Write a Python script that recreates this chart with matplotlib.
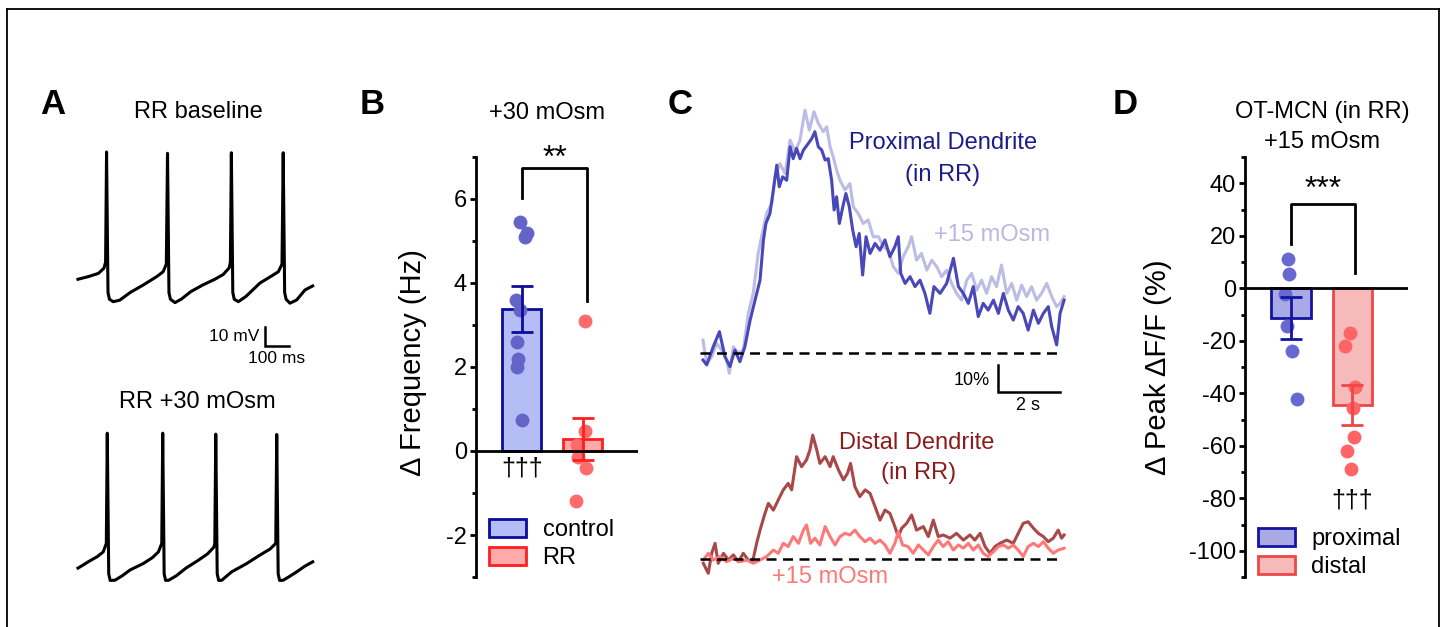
import matplotlib.pyplot as plt
from matplotlib.patches import Patch
from matplotlib.lines import Line2D
import numpy as np

plt.rcParams['font.family'] = ['Liberation Sans', 'DejaVu Sans']
plt.rcParams['axes.unicode_minus'] = False

W, H = 1444, 627

# ---------------- data ----------------
# A: membrane potential traces (ms, mV)
trace_baseline = [(0, -47), (43, -45.6), (85, -43.9), (108, -41.2), (115, -38), (119, 20), (125, -54),
                  (131, -57.5), (147, -58.8), (174, -58), (217, -54), (272, -50), (328, -45.6), (355, -43),
                  (368, -39), (373, 19.3), (379, -54), (385, -57.5), (404, -59.3), (430, -57.5), (470, -53.5),
                  (520, -50), (570, -47), (605, -44.5), (630, -41), (635, -38), (639, 19.6), (645, -54),
                  (651, -57.5), (668, -58.8), (700, -56), (758, -49), (810, -45), (835, -43), (850, -39),
                  (855, 19.6), (861, -54), (867, -57.5), (883, -59.6), (911, -57.9), (946, -52.6), (978, -50.5)]
trace_30mosm = [(0, -51), (20, -49.5), (45, -47.5), (80, -45), (105, -42.5), (118, -38), (122, 20), (128, -54),
                (134, -57.5), (154, -57.4), (185, -55), (217, -52), (272, -48.6), (310, -45.5), (335, -42.5),
                (349, -38), (353, 20), (359, -54), (365, -57.5), (378, -57.4), (410, -55), (450, -51), (500, -47),
                (540, -43.5), (566, -40), (570, -38), (574, 19.5), (580, -54), (586, -57.5), (599, -57.4),
                (640, -53), (703, -48.6), (760, -44), (800, -41), (824, -38), (828, 19.3), (834, -54),
                (840, -57.5), (855, -57.4), (880, -55.5), (911, -53), (945, -50), (978, -47.7)]

# B: change in firing frequency (Hz)
freq_groups = ['control', 'RR']
freq_means = [3.38, 0.28]
freq_sem = [0.55, 0.5]
freq_control = [5.45, 5.2, 5.1, 3.6, 3.35, 2.6, 2.2, 2.0, 0.73]
freq_rr = [3.1, 0.47, 0.15, -0.15, -0.4, -1.2]
jit_control = [-0.02, 0.09, 0.06, -0.09, -0.02, -0.07, -0.06, -0.07, 0.01]
jit_rr = [0.04, 0.04, -0.09, -0.07, 0.06, -0.11]

# C: calcium imaging traces (s, % dF/F)
prox_ctrl = [(0.00, -2.6), (0.12, -4.4), (0.33, 2.3), (0.53, 7.9), (0.71, -1.4), (0.87, -5), (1.03, 1.1),
             (1.19, -3.2), (1.35, 2.3), (1.52, 12.2), (1.68, 19.6), (1.84, 27), (1.95, 41.9), (2.03, 48),
             (2.16, 51.7), (2.27, 60.4), (2.38, 69.6), (2.46, 61.6), (2.57, 65.3), (2.70, 64), (2.81, 76.4),
             (2.91, 72), (3.02, 75.8), (3.13, 72), (3.24, 75.2), (3.40, 77.7), (3.51, 79.5), (3.61, 82),
             (3.72, 76.4), (3.83, 75.2), (3.94, 71.5), (4.04, 72), (4.15, 64), (4.23, 53), (4.31, 57.9),
             (4.40, 48), (4.51, 54.2), (4.61, 59.1), (4.72, 54.2), (4.83, 45.6), (4.94, 39.4), (5.04, 44.3),
             (5.15, 28.9), (5.26, 43.1), (5.39, 36.9), (5.55, 40.6), (5.71, 38.1), (5.87, 41.9), (6.03, 35.7),
             (6.19, 39.4), (6.30, 43.1), (6.38, 29.5), (6.52, 25.8), (6.68, 28.3), (6.84, 24.6), (7.00, 27),
             (7.16, 22.1), (7.32, 14.7), (7.45, 24.6), (7.65, 22.1), (7.86, 25.8), (8.08, 35.1), (8.24, 24.6),
             (8.40, 22.1), (8.56, 18.4), (8.72, 24.6), (8.88, 13.5), (9.04, 18.4), (9.20, 15.9), (9.37, 19.6),
             (9.53, 14.7), (9.69, 22.1), (9.85, 15.9), (10.01, 12.2), (10.17, 17.2), (10.33, 14.7),
             (10.49, 8.5), (10.66, 15.9), (10.82, 11), (10.98, 14.7), (11.14, 17.2), (11.25, 9.8),
             (11.41, 3), (11.52, 14.7), (11.65, 19.6)]
prox_15mosm = [(0.00, 4.8), (0.12, -3.8), (0.28, -1.4), (0.44, 3.6), (0.60, 1.1), (0.76, -2.6), (0.85, -7.5),
               (0.98, 2.3), (1.14, -0.1), (1.30, 1.1), (1.46, 14.7), (1.62, 22.1), (1.78, 36.9), (1.89, 43.1),
               (2.05, 51.7), (2.22, 55.4), (2.32, 65.3), (2.48, 70.2), (2.65, 66.5), (2.81, 78.9), (2.97, 74.6),
               (3.13, 78.9), (3.29, 90), (3.43, 82.6), (3.58, 89.4), (3.72, 85.1), (3.88, 82), (3.99, 83.8),
               (4.10, 76.4), (4.20, 72.7), (4.31, 67.8), (4.42, 64), (4.58, 60.4), (4.74, 62.8), (4.85, 54.2),
               (5.01, 51.7), (5.17, 48), (5.33, 49.3), (5.49, 43.1), (5.66, 43.1), (5.82, 39.4), (5.98, 38.1),
               (6.14, 32), (6.30, 29.5), (6.46, 35.7), (6.62, 39.4), (6.73, 43.1), (6.89, 34.4), (7.05, 36.9),
               (7.22, 30.7), (7.38, 34.4), (7.54, 32), (7.70, 28.3), (7.86, 30.7), (8.02, 25.8), (8.18, 22.1),
               (8.34, 19.6), (8.51, 27), (8.67, 29.5), (8.83, 23.3), (8.99, 27), (9.15, 22.1), (9.31, 28.3),
               (9.47, 24.6), (9.63, 32.6), (9.80, 22.1), (9.96, 25.8), (10.12, 19.6), (10.28, 25.2),
               (10.44, 20.9), (10.60, 24.6), (10.76, 19.6), (10.92, 22.1), (11.09, 25.8), (11.25, 20.9),
               (11.41, 17.2), (11.52, 18.4), (11.65, 20.9)]
dist_ctrl = [(0.01, -1.6), (0.17, -5.3), (0.28, 2.1), (0.39, 5.8), (0.49, -1.6), (0.66, 2.1), (0.82, -0.4),
             (0.98, 1.5), (1.14, -1), (1.30, 2.1), (1.46, -0.4), (1.60, -1), (1.73, 5.8), (1.84, 10.7),
             (2.00, 16.9), (2.11, 20.6), (2.27, 18.1), (2.43, 21.9), (2.59, 25.6), (2.75, 28), (2.86, 25.6),
             (3.02, 37.9), (3.18, 34.2), (3.34, 36.7), (3.45, 40.4), (3.54, 45.9), (3.67, 40.4), (3.77, 35.4),
             (3.94, 37.9), (4.10, 34.2), (4.20, 37.9), (4.37, 33), (4.53, 29.3), (4.66, 31.7), (4.76, 35.4),
             (4.90, 26.8), (5.06, 23.1), (5.23, 25.6), (5.39, 24.3), (5.55, 19.4), (5.71, 14.4), (5.87, 18.1),
             (6.03, 16.9), (6.19, 12), (6.30, 8.3), (6.41, 11.4), (6.57, 13.2), (6.73, 16.3), (6.89, 10.7),
             (7.11, 12), (7.27, 8.3), (7.43, 14.4), (7.59, 8.3), (7.75, 8.9), (7.97, 7.7), (8.18, 9.5),
             (8.40, 7), (8.61, 8.9), (8.77, 7), (8.94, 9.5), (9.10, 4.6), (9.26, 2.1), (9.42, 4.6), (9.58, 5.8),
             (9.80, 7), (10.01, 5.8), (10.17, 9.5), (10.33, 13.2), (10.49, 13.8), (10.66, 11.4), (10.82, 9.5),
             (10.98, 8.3), (11.14, 6.4), (11.30, 7.7), (11.46, 10.7), (11.57, 7.7), (11.65, 8.9)]
dist_15mosm = [(0.01, -0.4), (0.17, 2.1), (0.33, -0.4), (0.55, 0.9), (0.76, -1), (0.98, 0.2), (1.19, -1),
               (1.41, -0.4), (1.62, -1.6), (1.84, -0.4), (2.05, 0.9), (2.27, 3.3), (2.43, 2.1), (2.59, 5.8),
               (2.75, 4.6), (2.91, 8.3), (3.08, 5.8), (3.24, 10.7), (3.34, 12.6), (3.47, 5.8), (3.61, 7.7),
               (3.77, 5.2), (3.94, 12), (4.10, 8.3), (4.26, 5.2), (4.42, 8.3), (4.58, 9.5), (4.74, 8.9),
               (4.90, 10.7), (5.06, 8.3), (5.23, 6.4), (5.39, 7.7), (5.55, 5.8), (5.71, 7), (5.87, 5.2),
               (6.03, 2.1), (6.19, 5.8), (6.30, 10.1), (6.44, 5.2), (6.62, 4.6), (6.78, 2.1), (6.95, 5.2),
               (7.11, 3.3), (7.27, 1.5), (7.43, 4.6), (7.59, 7), (7.75, 4.6), (7.91, 6.4), (8.08, 3.3),
               (8.24, 5.2), (8.40, 4), (8.56, 5.8), (8.72, 3.3), (8.88, 5.2), (9.04, 2.1), (9.20, 0.9),
               (9.37, 2.7), (9.53, 4.6), (9.69, 5.2), (9.85, 4), (10.01, 5.2), (10.17, 3.3), (10.33, 0.9),
               (10.49, 4.6), (10.66, 5.8), (10.82, 4.6), (10.98, 6.4), (11.14, 4), (11.30, 2.1), (11.46, 3.3),
               (11.65, 4)]

# D: change in peak dF/F (%)
peak_groups = ['proximal', 'distal']
peak_means = [-11.2, -44.5]
peak_sem = [8, 7.5]
peak_proximal = [11, 5.3, -2, -14.5, -24, -42.3]
peak_distal = [-17.1, -22.1, -37.7, -45.7, -56.8, -62.1, -69]
jit_proximal = [-0.05, -0.03, -0.1, -0.07, 0.02, 0.1]
jit_distal = [-0.03, -0.11, 0.05, 0.02, 0.03, -0.08, -0.02]


def box(x0, y0, x1, y1):
    return [x0 / W, 1 - y1 / H, (x1 - x0) / W, (y1 - y0) / H]


def ftext(x, y, s, **kw):
    fig.text(x / W, 1 - y / H, s, ha=kw.pop('ha', 'center'), va=kw.pop('va', 'center'), **kw)


fig = plt.figure(figsize=(W / 100, H / 100), dpi=100)

# frame around the figure
for xs, ys in [([7, 7], [627, 9]), ([7, 1439], [9, 9]), ([1439, 1439], [9, 627])]:
    fig.add_artist(Line2D([x / W for x in xs], [1 - y / H for y in ys], color='black', lw=1.3))

# panel letters
for lab, x, y in [('A', 53, 105), ('B', 372, 105), ('C', 680, 105), ('D', 1125, 104)]:
    ftext(x, y, lab, fontsize=25, fontweight='bold')

# ---------------- A ----------------
axA = fig.add_axes(box(70, 140, 320, 600))
axA.set_xlim(-33.3, 1008.3)
axA.set_ylim(-215.8, 26.3)
axA.axis('off')
t1, v1 = zip(*trace_baseline)
t2, v2 = zip(*trace_30mosm)
axA.plot(t1, v1, color='black', lw=2.2, solid_joinstyle='round')
axA.plot(t2, np.array(v2) - 148, color='black', lw=2.2, solid_joinstyle='round')
axA.plot([779, 779, 879], [-72.1, -82.1, -82.1], color='black', lw=1.8, solid_joinstyle='miter')
axA.text(755, -77, '10 mV', ha='right', va='center', fontsize=12.5)
axA.text(829, -88.5, '100 ms', ha='center', va='center', fontsize=12.5)
ftext(198, 112, 'RR baseline', fontsize=17)
ftext(197, 402, 'RR +30 mOsm', fontsize=17)


def bar_panel(ax, means, sems, faces, edges, dots, jits, dotcols, ylim, major, minor):
    xs = np.arange(len(means))
    ax.bar(xs, means, width=0.64, color=faces, edgecolor=edges, linewidth=2, zorder=2)
    for i in range(len(means)):
        ax.scatter(xs[i] + np.array(jits[i]), dots[i], s=100, color=dotcols[i], lw=0, zorder=3)
        ax.errorbar(xs[i], means[i], yerr=sems[i], color=edges[i], lw=2, capsize=8, capthick=2, zorder=4)
    ax.axhline(0, color='black', lw=2, zorder=5)
    ax.set_xlim(-0.75, 1.91)
    ax.set_ylim(*ylim)
    for s in ['top', 'right', 'bottom']:
        ax.spines[s].set_visible(False)
    ax.spines['left'].set_linewidth(2)
    ax.set_xticks([])
    ax.set_yticks(major)
    ax.set_yticks(minor, minor=True)
    ax.tick_params(axis='y', which='major', length=4.5, width=2, labelsize=17, pad=2)
    ax.tick_params(axis='y', which='minor', length=3, width=2)


# ---------------- B ----------------
axB = fig.add_axes(box(476, 157, 638, 577))
bar_panel(axB, freq_means, freq_sem, ['#b4bdf6', '#ffaaaa'], ['#0b0b9c', '#ff1f1f'],
          [freq_control, freq_rr], [jit_control, jit_rr], ['#6464c8', '#ff6a6a'],
          (-3, 7), [-2, 0, 2, 4, 6], [-3, -1, 1, 3, 5, 7])
axB.set_ylabel('Δ Frequency (Hz)', fontsize=21)
axB.yaxis.set_label_coords(-0.30, 0.51)
axB.plot([0, 0, 1.08, 1.08], [6.02, 6.74, 6.74, 3.57], color='black', lw=2, zorder=6)
axB.text(0.54, 6.95, '**', ha='center', va='center', fontsize=23)
axB.text(0, -0.42, '†††', ha='center', va='center', fontsize=18)
ftext(547, 113, '+30 mOsm', fontsize=17)
axB.legend(handles=[Patch(facecolor='#b4bdf6', edgecolor='#0b0b9c', lw=2, label=freq_groups[0]),
                    Patch(facecolor='#ffaaaa', edgecolor='#ff1f1f', lw=2, label=freq_groups[1])],
           loc='upper left', bbox_to_anchor=(489 / W, 1 - 519 / H), bbox_transform=fig.transFigure,
           frameon=False, borderpad=0, borderaxespad=0, handlelength=1.57, handleheight=0.8,
           handletextpad=0.7, labelspacing=0.25, fontsize=17)

# ---------------- C ----------------
axC = fig.add_axes(box(695, 95, 1070, 600))
axC.set_xlim(-0.258, 11.84)
axC.set_ylim(-91.5, 95.6)
axC.axis('off')
dist_off = -76.3
for tr, col, off in [(prox_15mosm, '#bcbce6', 0), (prox_ctrl, '#4848b8', 0),
                     (dist_ctrl, '#a84848', dist_off), (dist_15mosm, '#ff7878', dist_off)]:
    t, v = zip(*tr)
    axC.plot(t, np.array(v) + off, color=col, lw=2.2, solid_joinstyle='round')
axC.plot([-0.1, 11.58], [0, 0], color='black', lw=1.8, linestyle=(0, (4, 2.6)))
axC.plot([-0.1, 11.58], [dist_off, dist_off], color='black', lw=1.8, linestyle=(0, (4, 2.6)))
axC.plot([9.52, 9.52, 11.52], [-4.4, -14.4, -14.4], color='black', lw=1.8, solid_joinstyle='miter')
axC.text(8.68, -10, '10%', ha='center', va='center', fontsize=13)
axC.text(10.48, -19.3, '2 s', ha='center', va='center', fontsize=13)
axC.text(7.74, 77.8, 'Proximal Dendrite', ha='center', va='center', fontsize=17, color='#1c1c8c')
axC.text(7.74, 65.9, '(in RR)', ha='center', va='center', fontsize=17, color='#1c1c8c')
axC.text(9.32, 43.7, '+15 mOsm', ha='center', va='center', fontsize=17, color='#b8b8e2')
axC.text(6.9, -33.3, 'Distal Dendrite', ha='center', va='center', fontsize=17, color='#8c1c1c')
axC.text(6.94, -44.4, '(in RR)', ha='center', va='center', fontsize=17, color='#8c1c1c')
axC.text(4.1, -83, '+15 mOsm', ha='center', va='center', fontsize=17, color='#ff7878')

# ---------------- D ----------------
axD = fig.add_axes(box(1245, 157, 1408, 577))
bar_panel(axD, peak_means, peak_sem, ['#a9a9e6', '#f7baba'], ['#1414a0', '#f04646'],
          [peak_proximal, peak_distal], [jit_proximal, jit_distal], ['#6868d2', '#ff6464'],
          (-110, 50), [-100, -80, -60, -40, -20, 0, 20, 40], [-110, -90, -70, -50, -30, -10, 10, 30, 50])
axD.set_ylabel('Δ Peak ΔF/F (%)', fontsize=21)
axD.yaxis.set_label_coords(-0.45, 0.5)
axD.plot([0, 0, 1.05, 1.05], [16.8, 32, 32, 5.7], color='black', lw=2, zorder=6)
axD.text(0.52, 37.5, '***', ha='center', va='center', fontsize=23)
axD.text(1.0, -81, '†††', ha='center', va='center', fontsize=18)
ftext(1322, 112, 'OT-MCN (in RR)', fontsize=17)
ftext(1322, 142, '+15 mOsm', fontsize=17)
axD.legend(handles=[Patch(facecolor='#a9a9e6', edgecolor='#1414a0', lw=2, label=peak_groups[0]),
                    Patch(facecolor='#f7baba', edgecolor='#f04646', lw=2, label=peak_groups[1])],
           loc='upper left', bbox_to_anchor=(1258 / W, 1 - 528 / H), bbox_transform=fig.transFigure,
           frameon=False, borderpad=0, borderaxespad=0, handlelength=1.57, handleheight=0.8,
           handletextpad=0.68, labelspacing=0.25, fontsize=17)

fig.savefig('out.png', dpi=100)
